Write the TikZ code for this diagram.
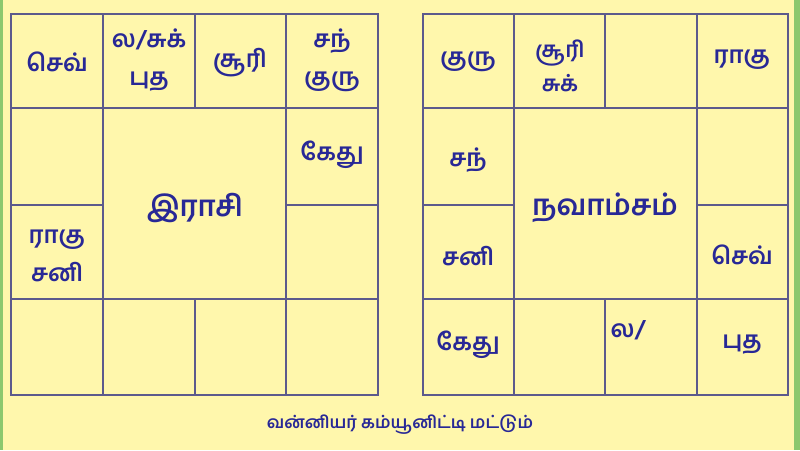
\documentclass[tikz,border=0pt]{standalone}
\usepackage{fontspec}
\usetikzlibrary{positioning}
\newfontfamily\tamil[Script=Tamil]{Hind Madurai}
\definecolor{paper}{RGB}{255,247,172}
\definecolor{edge}{RGB}{140,200,110}
\definecolor{rule}{RGB}{92,90,140}
\definecolor{ink}{RGB}{40,40,150}
\tikzset{
  grid/.style={draw=rule,line width=2.6pt},
  graha/.style={text=ink,font=\tamil\bfseries\fontsize{24}{38}\selectfont,align=center,inner sep=1pt},
  title/.style={text=ink,font=\tamil\bfseries\fontsize{29}{32}\selectfont,inner sep=1pt},
  foot/.style={text=ink,font=\tamil\bfseries\fontsize{17}{19}\selectfont,inner sep=1pt}
}

\begin{document}
\begin{tikzpicture}[x=1pt,y=-1pt]
  \useasboundingbox (0,0) rectangle (800,450);
  \fill[paper] (0,0) rectangle (800,450);
  \fill[edge] (0,0) rectangle (3,450);
  \fill[edge] (794,0) rectangle (800,450);

  % rasi chart
  \draw[grid] (11,14) rectangle (378,395);
  \draw[grid] (11,108) -- (378,108);
  \draw[grid] (11,299) -- (378,299);
  \draw[grid] (11,205) -- (103,205);
  \draw[grid] (286,205) -- (378,205);
  \draw[grid] (103,14) -- (103,395);
  \draw[grid] (286,14) -- (286,395);
  \draw[grid] (195,14) -- (195,108);
  \draw[grid] (195,299) -- (195,395);

  \node[graha] (rSev) at (57,62) {செவ்};
  \node[graha] (rLaSuk) at (149,60) {ல/சுக்\\புத};
  \node[graha] (rSuri) at (240,63) {சூரி};
  \node[graha] (rSanGuru) at (332,60) {சந்\\குரு};
  \node[graha] (rKethu) at (332,155) {கேது};
  \node[graha] (rRaguSani) at (57,256) {ராகு\\சனி};
  \node[title] (rasi) at (195,208) {இராசி};

  % navamsam chart
  \draw[grid] (423,14) rectangle (788,395);
  \draw[grid] (423,108) -- (788,108);
  \draw[grid] (423,299) -- (788,299);
  \draw[grid] (423,205) -- (514,205);
  \draw[grid] (697,205) -- (788,205);
  \draw[grid] (514,14) -- (514,395);
  \draw[grid] (697,14) -- (697,395);
  \draw[grid] (605,14) -- (605,108);
  \draw[grid] (605,299) -- (605,395);

  \node[graha] (nGuru) at (468,62) {குரு};
  \node[graha,font=\tamil\bfseries\fontsize{22}{34}\selectfont] (nSuriSuk) at (560,66) {சூரி\\சுக்};
  \node[graha] (nRagu) at (742,60) {ராகு};
  \node[graha] (nSan) at (468,160) {சந்};
  \node[graha] (nSani) at (468,256) {சனி};
  \node[graha] (nSev) at (742,255) {செவ்};
  \node[graha] (nKethu) at (468,345) {கேது};
  \node[graha] (nLa) at (628,330) {ல/};
  \node[graha] (nPutha) at (742,345) {புத};
  \node[title] (navamsam) at (605,208) {நவாம்சம்};

  \node[foot] (community) at (400,425) {வன்னியர் கம்யூனிட்டி மட்டும்};
\end{tikzpicture}
\end{document}
